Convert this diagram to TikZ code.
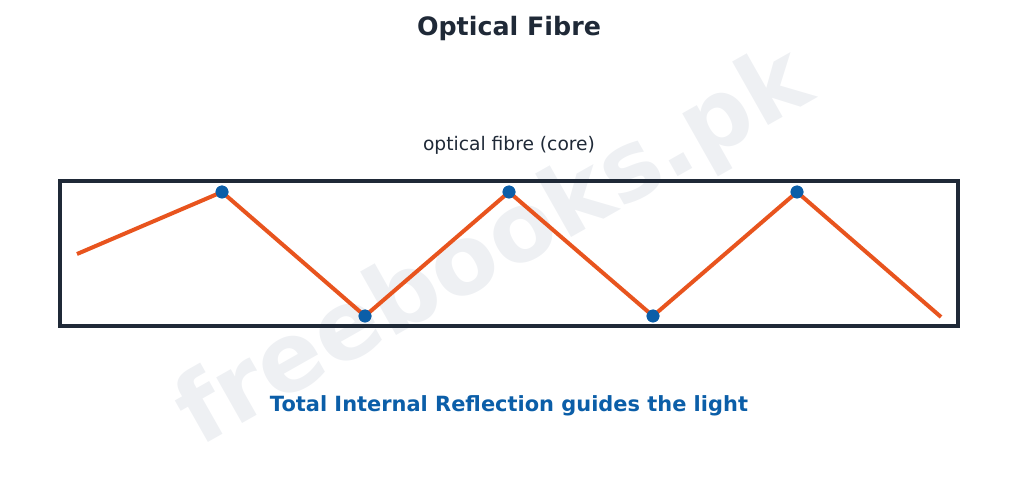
\documentclass[tikz,border=0pt]{standalone}
\usepackage{fontspec}
\setmainfont{DejaVu Sans}
\definecolor{ink}{HTML}{1F2937}
\definecolor{ray}{HTML}{E8541E}
\definecolor{dotblue}{HTML}{0B5EA8}
\definecolor{wm}{HTML}{EEF0F3}
\begin{document}
\begin{tikzpicture}[x=0.75pt,y=-0.75pt,
  dot/.style={circle,fill=dotblue,inner sep=0pt,minimum size=9.6pt},
  endpt/.style={inner sep=0pt,minimum size=0pt},
  raypath/.style={draw=ray,line width=3pt,line join=round},
  fibre/.style={draw=ink,line width=3pt}]
\useasboundingbox (0,0) rectangle (1018,477);
\node[rotate=29.5,text=wm,font=\bfseries\fontsize{72}{74}\selectfont] (wmk) at (495,250) {freebooks.pk};
\node[font=\bfseries\fontsize{19}{22}\selectfont,text=ink] (title) at (509,29) {Optical Fibre};
\node[font=\fontsize{14}{17}\selectfont,text=ink] (lab) at (509,145) {optical fibre (core)};
\node[fibre,minimum width=898*0.75pt,minimum height=145*0.75pt,inner sep=0pt] (core) at (509,253.5) {};
\node[endpt] (p0) at (77,254) {};
\node[dot] (p1) at (222,192) {};
\node[dot] (p2) at (365,316) {};
\node[dot] (p3) at (509,192) {};
\node[dot] (p4) at (653,316) {};
\node[dot] (p5) at (797,192) {};
\node[endpt] (p6) at (941,317) {};
\draw[raypath] (p0.center) -- (p1.center) -- (p2.center) -- (p3.center) -- (p4.center) -- (p5.center) -- (p6.center);
\foreach \p in {p1,p2,p3,p4,p5}{\fill[dotblue] (\p.center) circle (4.8pt);}
\node[font=\bfseries\fontsize{15.7}{18}\selectfont,text=dotblue] (cap) at (509,406) {Total Internal Reflection guides the light};
\end{tikzpicture}
\end{document}
